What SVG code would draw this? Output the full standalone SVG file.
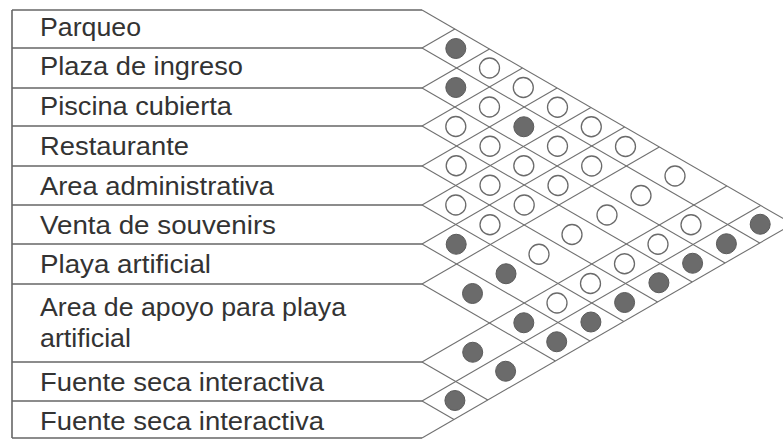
<svg xmlns="http://www.w3.org/2000/svg" width="783" height="439" viewBox="0 0 783 439">
<style>
.t{font-family:"Liberation Sans",Arial,sans-serif;font-size:26px;fill:#333}
.h{stroke:#666;stroke-width:1.6;fill:none}
.l{stroke:#707070;stroke-width:1.1;fill:none}
.f{fill:#6b6b6b;stroke:#5a5a5a;stroke-width:1}
.o{fill:#fff;stroke:#6a6a6a;stroke-width:1.3}
</style>
<rect width="783" height="439" fill="#fff"/>
<g id="table">
<line class="h" x1="12" y1="10" x2="12" y2="438"/>
<line class="h" x1="12" y1="10" x2="422" y2="10"/>
<line class="h" x1="12" y1="48" x2="422" y2="48"/>
<line class="h" x1="12" y1="88" x2="422" y2="88"/>
<line class="h" x1="12" y1="126" x2="422" y2="126"/>
<line class="h" x1="12" y1="166" x2="422" y2="166"/>
<line class="h" x1="12" y1="205" x2="422" y2="205"/>
<line class="h" x1="12" y1="244" x2="422" y2="244"/>
<line class="h" x1="12" y1="284" x2="422" y2="284"/>
<line class="h" x1="12" y1="362" x2="422" y2="362"/>
<line class="h" x1="12" y1="401" x2="422" y2="401"/>
<line class="h" x1="12" y1="438" x2="422" y2="438"/>
</g>
<g id="row1"><text class="t" x="40" y="36" textLength="101" lengthAdjust="spacingAndGlyphs">Parqueo</text></g>
<g id="row2"><text class="t" x="40" y="75" textLength="203" lengthAdjust="spacingAndGlyphs">Plaza de ingreso</text></g>
<g id="row3"><text class="t" x="40" y="115" textLength="192" lengthAdjust="spacingAndGlyphs">Piscina cubierta</text></g>
<g id="row4"><text class="t" x="40" y="155" textLength="149" lengthAdjust="spacingAndGlyphs">Restaurante</text></g>
<g id="row5"><text class="t" x="40" y="195" textLength="234" lengthAdjust="spacingAndGlyphs">Area administrativa</text></g>
<g id="row6"><text class="t" x="40" y="234" textLength="236" lengthAdjust="spacingAndGlyphs">Venta de souvenirs</text></g>
<g id="row7"><text class="t" x="40" y="273" textLength="171" lengthAdjust="spacingAndGlyphs">Playa artificial</text></g>
<g id="row8"><text class="t" x="40" y="316" textLength="306" lengthAdjust="spacingAndGlyphs">Area de apoyo para playa</text><text class="t" x="40" y="347" textLength="91" lengthAdjust="spacingAndGlyphs">artificial</text></g>
<g id="row9"><text class="t" x="40" y="391" textLength="284" lengthAdjust="spacingAndGlyphs">Fuente seca interactiva</text></g>
<g id="row10"><text class="t" x="40" y="430" textLength="284" lengthAdjust="spacingAndGlyphs">Fuente seca interactiva</text></g>
<g id="connectors">
<line class="l" x1="422" y1="10" x2="792.6" y2="224"/>
<line class="l" x1="422" y1="48" x2="759.7" y2="243"/>
<line class="l" x1="422" y1="48" x2="454.9" y2="29"/>
<line class="l" x1="422" y1="88" x2="725.1" y2="263"/>
<line class="l" x1="422" y1="88" x2="489.5" y2="49"/>
<line class="l" x1="422" y1="126" x2="692.2" y2="282"/>
<line class="l" x1="422" y1="126" x2="522.5" y2="68"/>
<line class="l" x1="422" y1="166" x2="657.6" y2="302"/>
<line class="l" x1="422" y1="166" x2="557.1" y2="88"/>
<line class="l" x1="422" y1="205" x2="623.8" y2="321.5"/>
<line class="l" x1="422" y1="205" x2="590.9" y2="107.5"/>
<line class="l" x1="422" y1="244" x2="590" y2="341"/>
<line class="l" x1="422" y1="244" x2="624.6" y2="127"/>
<line class="l" x1="422" y1="284" x2="555.4" y2="361"/>
<line class="l" x1="422" y1="284" x2="659.3" y2="147"/>
<line class="l" x1="422" y1="362" x2="487.8" y2="400"/>
<line class="l" x1="422" y1="362" x2="726.8" y2="186"/>
<line class="l" x1="422" y1="401" x2="454" y2="419.5"/>
<line class="l" x1="422" y1="401" x2="760.6" y2="205.5"/>
<line class="l" x1="422" y1="438" x2="792.6" y2="224"/>
</g>
<g id="marks">
<circle class="f" cx="455.8" cy="48.5" r="10"/>
<circle class="o" cx="489.5" cy="68" r="10"/>
<circle class="o" cx="523.3" cy="87.5" r="10"/>
<circle class="o" cx="557.5" cy="107.25" r="10"/>
<circle class="o" cx="591.3" cy="126.75" r="10"/>
<circle class="o" cx="625.5" cy="146.5" r="10"/>
<circle class="o" cx="675" cy="176" r="10"/>
<circle class="f" cx="760.2" cy="224.25" r="10"/>
<circle class="f" cx="455.8" cy="87.5" r="10"/>
<circle class="o" cx="489.5" cy="107" r="10"/>
<circle class="f" cx="523.8" cy="126.75" r="10"/>
<circle class="o" cx="557.5" cy="146.25" r="10"/>
<circle class="o" cx="591.7" cy="166" r="10"/>
<circle class="o" cx="641" cy="195.5" r="10"/>
<circle class="o" cx="691" cy="224.75" r="10"/>
<circle class="f" cx="726.4" cy="243.75" r="10"/>
<circle class="o" cx="455.8" cy="126.5" r="10"/>
<circle class="o" cx="490" cy="146.25" r="10"/>
<circle class="o" cx="523.8" cy="165.75" r="10"/>
<circle class="o" cx="558" cy="185.5" r="10"/>
<circle class="o" cx="607" cy="215" r="10"/>
<circle class="o" cx="658" cy="244.25" r="10"/>
<circle class="f" cx="692.6" cy="263.25" r="10"/>
<circle class="o" cx="456.2" cy="165.75" r="10"/>
<circle class="o" cx="490" cy="185.25" r="10"/>
<circle class="o" cx="524.2" cy="205" r="10"/>
<circle class="o" cx="572" cy="234.5" r="10"/>
<circle class="o" cx="624.5" cy="263.75" r="10"/>
<circle class="f" cx="658.9" cy="282.75" r="10"/>
<circle class="o" cx="455.8" cy="205" r="10"/>
<circle class="o" cx="490" cy="224.75" r="10"/>
<circle class="o" cx="539" cy="254.25" r="10"/>
<circle class="o" cx="590.5" cy="283.5" r="10"/>
<circle class="f" cx="624.6" cy="302.5" r="10"/>
<circle class="f" cx="456.2" cy="244.25" r="10"/>
<circle class="f" cx="506" cy="273.75" r="10"/>
<circle class="o" cx="557" cy="303" r="10"/>
<circle class="f" cx="590.9" cy="322" r="10"/>
<circle class="f" cx="472.5" cy="293.5" r="10"/>
<circle class="f" cx="523.8" cy="322.75" r="10"/>
<circle class="f" cx="556.7" cy="341.75" r="10"/>
<circle class="f" cx="472.7" cy="352.25" r="10"/>
<circle class="f" cx="505.6" cy="371.25" r="10"/>
<circle class="f" cx="454.9" cy="400.5" r="10"/>
</g>
</svg>
